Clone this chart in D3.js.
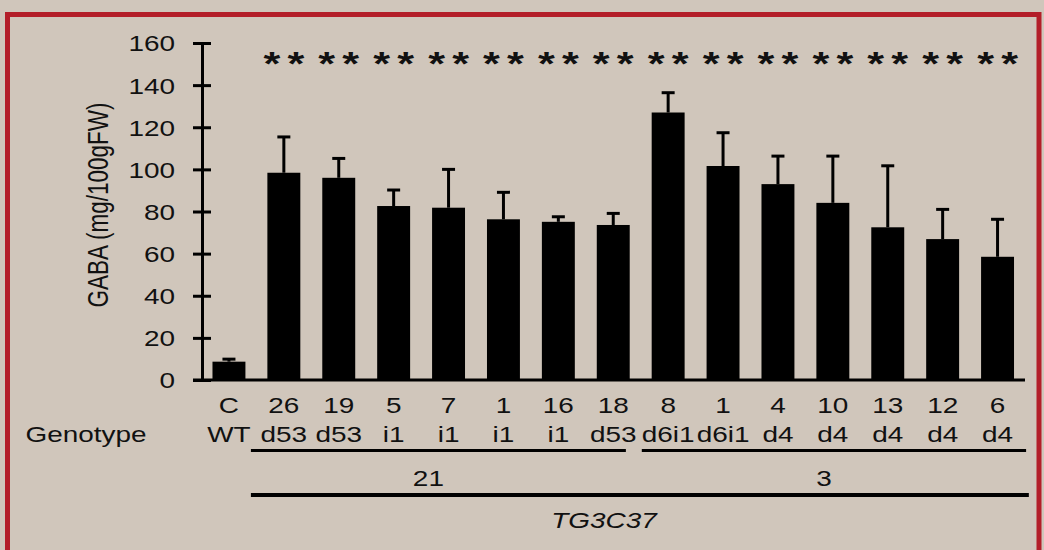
<!DOCTYPE html>
<html><head><meta charset="utf-8">
<script src="https://cdn.jsdelivr.net/npm/d3@7"></script>
<style>body{margin:0;background:#d0c6bb}</style></head>
<body><svg id="c" width="1044" height="550"></svg>
<script>
// ---- data ----
const lineNumbers = ["C","26","19","5","7","1","16","18","8","1","4","10","13","12","6"];
const genotypes   = ["WT","d53","d53","i1","i1","i1","i1","d53","d6i1","d6i1","d4","d4","d4","d4","d4"];
const gabaMeans   = [8.7, 98.4, 96.0, 82.6, 81.8, 76.3, 75.1, 73.6, 127.0, 101.6, 93.0, 84.1, 72.5, 66.9, 58.5];
const gabaErrors  = [1.2, 17.0, 9.2, 7.6, 18.2, 12.8, 2.4, 5.5, 9.4, 15.8, 13.3, 22.2, 29.2, 14.1, 17.8];
const significance = ["","**","**","**","**","**","**","**","**","**","**","**","**","**","**"];
const yTicks = [0,20,40,60,80,100,120,140,160];
const groupLabels = ["21","3"];
const groupSpans = [[1,7],[8,14]];
const constructLabel = "TG3C37";
const constructSpan = [1,14];
const yTitle = "GABA (mg/100gFW)";
const rowTitle = "Genotype";

// ---- layout ----
const SX = 1.27;            // horizontal text stretch of the original figure
const FONT = "'Liberation Sans', Arial, sans-serif";
const svg = d3.select("#c");
svg.append("rect").attr("width",1044).attr("height",550).attr("fill","#d0c6bb");
svg.append("rect").attr("x",7.5).attr("y",14.5).attr("width",1031.5).attr("height",545)
   .attr("fill","none").attr("stroke","#b31e29").attr("stroke-width",5);

const idx = d3.range(lineNumbers.length);
const x = d3.scaleBand().domain(idx).range([201.5,1025]).paddingInner(0.4).paddingOuter(0.2);
const y = d3.scaleLinear().domain([0,160]).range([380,43]);
const bw = x.bandwidth(), step = x.step();
const cx = i => x(i) + bw/2;

function txt(px, py, s, opt={}) {
  return svg.append("text")
    .attr("transform", `translate(${px},${py}) scale(${SX},1)` + (opt.rotate ? ` rotate(${opt.rotate})` : ""))
    .attr("text-anchor", opt.anchor || "middle")
    .attr("font-family", FONT)
    .attr("font-size", opt.size || 22)
    .attr("font-style", opt.italic ? "italic" : "normal")
    .attr("font-weight", opt.bold ? "bold" : "normal")
    .attr("fill", "#111")
    .text(s);
}

// bars
svg.append("g").selectAll("rect").data(idx).join("rect")
  .attr("x", i => x(i)).attr("width", bw)
  .attr("y", i => y(gabaMeans[i])).attr("height", i => y(0) - y(gabaMeans[i]))
  .attr("fill","#000");

// error bars
const eg = svg.append("g").attr("stroke","#000").attr("stroke-width",3);
eg.selectAll("line.v").data(idx).join("line").attr("class","v")
  .attr("x1", cx).attr("x2", cx)
  .attr("y1", i => y(gabaMeans[i])).attr("y2", i => y(gabaMeans[i] + gabaErrors[i]));
eg.selectAll("line.c").data(idx).join("line").attr("class","c")
  .attr("x1", i => cx(i) - 6.5).attr("x2", i => cx(i) + 6.5)
  .attr("y1", i => y(gabaMeans[i] + gabaErrors[i])).attr("y2", i => y(gabaMeans[i] + gabaErrors[i]));

// y axis
const ax = svg.append("g").attr("transform","translate(202,0)")
  .call(d3.axisLeft(y).tickValues(yTicks).tickSizeOuter(0).tickFormat(d3.format("d")));
ax.select(".domain").attr("stroke","#000").attr("stroke-width",3);
ax.selectAll(".tick line").attr("x1",9).attr("x2",-9).attr("stroke","#000").attr("stroke-width",3);
ax.selectAll(".tick text").attr("font-family",FONT).attr("font-size",22).attr("fill","#111")
  .attr("transform",`scale(${SX},1)`).attr("x",-27/SX).attr("dy","0.36em");

// baseline
svg.append("line").attr("x1",193).attr("x2",x.range()[1]).attr("y1",y(0)).attr("y2",y(0))
  .attr("stroke","#000").attr("stroke-width",3);

// y title
txt(108, 205, yTitle, {rotate:-90, size:22.5});

// significance stars
idx.forEach(i => {
  if (significance[i] === "**") {
    txt(cx(i) - 12, 75, "*", {size:34, bold:true});
    txt(cx(i) + 12, 75, "*", {size:34, bold:true});
  }
});

// category labels
idx.forEach(i => {
  txt(cx(i), 413, lineNumbers[i]);
  txt(cx(i), 442, genotypes[i]);
});
txt(86, 442, rowTitle);

// group lines
const gl = svg.append("g").attr("stroke","#000");
const gExt = [
  [x(groupSpans[0][0]) - 0.3*step, x(groupSpans[0][1]) + bw - 0.07*step],
  [x(groupSpans[1][0]) - 0.18*step, x(groupSpans[1][1]) + bw + 0.22*step]
];
gExt.forEach((e,k) => {
  gl.append("line").attr("x1",e[0]).attr("x2",e[1]).attr("y1",450.5).attr("y2",450.5).attr("stroke-width",3);
  txt((e[0]+e[1])/2 - 10, 486, groupLabels[k]);
});
const cExt = [x(constructSpan[0]) - 0.3*step, x(constructSpan[1]) + bw + 0.27*step];
gl.append("line").attr("x1",cExt[0]).attr("x2",cExt[1]).attr("y1",495).attr("y2",495).attr("stroke-width",4);
txt(604, 528, constructLabel, {italic:true});
</script></body></html>
